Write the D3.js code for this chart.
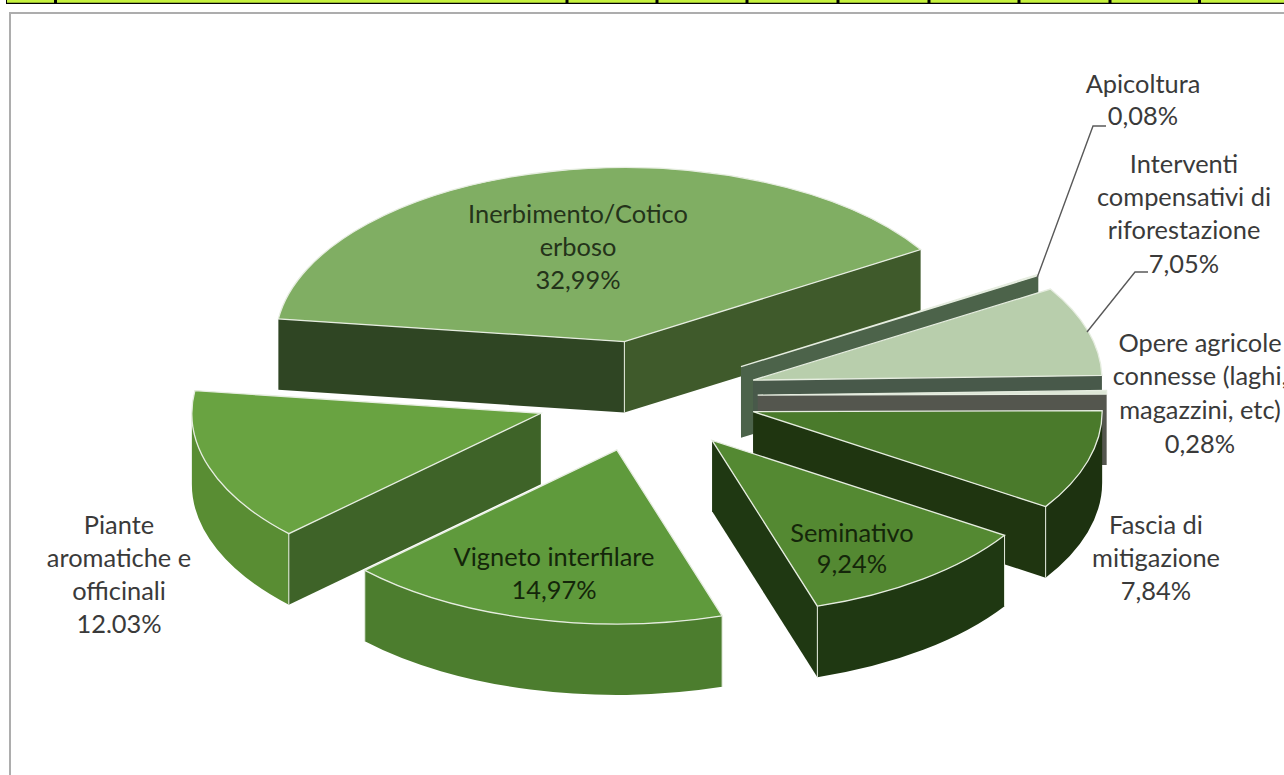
<!DOCTYPE html>
<html>
<head>
<meta charset="utf-8">
<script src="https://cdn.jsdelivr.net/npm/d3@7"></script>
<style>
  html, body { margin: 0; padding: 0; background: #fff; overflow: hidden; }
  text { font-family: Lato, "Open Sans", sans-serif; }
</style>
</head>
<body>
<script>
// Land use shares, in clockwise order starting from the largest slice.
const categories = [
  "Inerbimento/Cotico erboso", "Apicoltura", "Interventi compensativi di riforestazione",
  "Opere agricole connesse (laghi, magazzini, etc)", "Fascia di mitigazione",
  "Seminativo", "Vigneto interfilare", "Piante aromatiche e officinali"
];
const shares = [32.99, 0.08, 7.05, 0.28, 7.84, 9.24, 14.97, 12.03];
const shareLabels = ["32,99%", "0,08%", "7,05%", "0,28%", "7,84%", "9,24%", "14,97%", "12,03%"];
const labelLines = [
  ["Inerbimento/Cotico", "erboso"], ["Apicoltura"], ["Interventi", "compensativi di", "riforestazione"],
  ["Opere agricole", "connesse (laghi,", "magazzini, etc)"], ["Fascia di", "mitigazione"],
  ["Seminativo"], ["Vigneto interfilare"], ["Piante", "aromatiche e", "officinali"]
];

// Face colours per slice
const topColors  = ["#80ae63", "#5f7a58", "#b8ceac", "#dde6d6", "#4a7a2b", "#548932", "#5f9a3c", "#69a341"];
const startCutColors = ["#2f4523", "#4c634a", "#48594a", "#54564e", "#1f3510", "#1f3812", "#4c7d2e", "#3e6328"];
const endCutColors   = ["#3f5a2b", "#4c634a", "#48594a", "#54564e", "#1f3510", "#1f3812", "#4c7d2e", "#3e6328"];
const wallColors     = ["#3f5a2b", "#4c634a", "#48594a", "#54564e", "#1d3210", "#1f3812", "#4c7d2e", "#598d33"];

// Label anchors: centre x and y of the first line
const labelX = [578, 1143, 1184, 1200, 1156, 852, 554, 119];
const labelY = [214, 84, 164, 343, 525, 533, 557, 525];
const lineStep = [33, 32, 33.3, 33.6, 33, 31, 33, 33];
const labelInk = ["#24331a", "#3a3a3a", "#3a3a3a", "#3a3a3a", "#3a3a3a", "#14260a", "#14260a", "#3a3a3a"];

const width = 1284, height = 775;
const cx = 646, cy = 396, rx = 349, ry = 174, depth = 71, explode = 0.32;
const firstAngle = -82.5 * Math.PI / 180;
const edge = "#e6ede0";
// Small corrections to where some slices sit after being pulled out
const apexNudgeX = [2, 0, 0, 0, 0, -1.5, -1.5, 1];

const svg = d3.select("body").append("svg")
  .attr("width", width).attr("height", height)
  .style("display", "block");

// Page furniture: strip of a table above the chart, and the chart frame
const stripTicks = [6.5, 55.5, 567, 657, 747, 838, 929, 1019, 1110, 1199.5];
svg.append("rect").attr("x", 6).attr("y", 0).attr("width", width - 6).attr("height", 3).attr("fill", "#c6f23f");
svg.append("line").attr("x1", 6).attr("x2", width).attr("y1", 3.4).attr("y2", 3.4).attr("stroke", "#000").attr("stroke-width", 1.4);
svg.selectAll("line.tick").data(stripTicks).join("line").attr("class", "tick")
  .attr("x1", d => d).attr("x2", d => d).attr("y1", 0).attr("y2", 4)
  .attr("stroke", "#000").attr("stroke-width", (d, i) => i === 0 ? 1 : 3);
svg.append("path").attr("d", `M10 ${height} V13 H${width}`)
  .attr("fill", "none").attr("stroke", "#adadad").attr("stroke-width", 2);

// Pie layout in the order the slices run around the circle
const arcs = d3.pie().sort(null).startAngle(firstAngle).endAngle(firstAngle + 2 * Math.PI)(shares);

// Unit-circle angle (0 at the top, clockwise) projected on the tilted plane
const project = (a, r = 1) => [r * rx * Math.sin(a), -r * ry * Math.cos(a)];
const sliceData = arcs.map((d, i) => {
  const mid = (d.startAngle + d.endAngle) / 2;
  const [ox, oy] = project(mid, explode);
  return { ...d, i, ax: cx + ox + apexNudgeX[i], ay: cy + oy };
});

// Back-to-front painting order
const paintOrder = [0, 1, 2, 3, 4, 7, 5, 6];
const topArc = d3.arc().innerRadius(0).outerRadius(rx);

const quad = (p, q) =>
  `M${p[0]} ${p[1]} L${q[0]} ${q[1]} L${q[0]} ${q[1] + depth} L${p[0]} ${p[1] + depth} Z`;

const slices = svg.append("g").selectAll("g").data(paintOrder.map(i => sliceData[i])).join("g");

slices.each(function (d) {
  const g = d3.select(this);
  const apex = [d.ax, d.ay];
  const point = a => { const [x, y] = project(a); return [d.ax + x, d.ay + y]; };
  const p0 = point(d.startAngle), p1 = point(d.endAngle);

  // Cut faces are only seen when their outward normal points towards the viewer
  if (-Math.cos(d.startAngle - Math.PI / 2) > 0) {
    g.append("path").attr("d", quad(apex, p0)).attr("fill", startCutColors[d.i]);
  }
  if (-Math.cos(d.endAngle + Math.PI / 2) > 0) {
    g.append("path").attr("d", quad(apex, p1)).attr("fill", endCutColors[d.i]);
  }

  // Rim, limited to the front half of the ellipse
  const lo = Math.max(d.startAngle, Math.PI / 2);
  const hi = Math.min(d.endAngle, 3 * Math.PI / 2);
  if (hi > lo) {
    const a = point(lo), b = point(hi);
    g.append("path")
      .attr("d", `M${a[0]} ${a[1]} A${rx} ${ry} 0 0 1 ${b[0]} ${b[1]} L${b[0]} ${b[1] + depth} A${rx} ${ry} 0 0 0 ${a[0]} ${a[1] + depth} Z`)
      .attr("fill", wallColors[d.i]);
    // Pale vertical seam where the rim meets a cut face
    [d.startAngle, d.endAngle].filter(t => t >= lo && t <= hi).forEach(t => {
      const p = point(t);
      g.append("line").attr("x1", p[0]).attr("x2", p[0]).attr("y1", p[1]).attr("y2", p[1] + depth)
        .attr("stroke", edge).attr("stroke-width", 1);
    });
  }
  // Seam under the apex of the largest slice
  if (d.i === 0) {
    g.append("line").attr("x1", d.ax).attr("x2", d.ax).attr("y1", d.ay).attr("y2", d.ay + depth)
      .attr("stroke", edge).attr("stroke-width", 1);
  }

  // Top face: circular arc squashed onto the tilted plane
  g.append("path")
    .attr("d", topArc(d))
    .attr("transform", `translate(${d.ax},${d.ay}) scale(1,${ry / rx})`)
    .attr("fill", topColors[d.i])
    .attr("stroke", edge).attr("stroke-width", 1.3)
    .attr("vector-effect", "non-scaling-stroke");
});

// Leader lines for the two outer labels
const leaders = [
  [[1037, 278], [1093, 126], [1106, 126]],
  [[1087, 332], [1135, 272], [1148, 272]]
];
svg.selectAll("path.leader").data(leaders).join("path").attr("class", "leader")
  .attr("d", d3.line())
  .attr("fill", "none").attr("stroke", "#595959").attr("stroke-width", 1.4);

// The last line of the left label is cut off by the edge of the chart's text box
svg.append("clipPath").attr("id", "labelBox").append("rect")
  .attr("x", 0).attr("y", 0).attr("width", width).attr("height", 633);

const labels = svg.append("g").attr("clip-path", "url(#labelBox)")
  .selectAll("text").data(categories).join("text")
  .attr("text-anchor", "middle")
  .attr("font-size", 25.4)
  .attr("fill", (d, i) => labelInk[i])
  .attr("x", (d, i) => labelX[i])
  .attr("y", (d, i) => labelY[i]);

labels.each(function (d, i) {
  const t = d3.select(this);
  [...labelLines[i], shareLabels[i]].forEach((line, k) => {
    t.append("tspan").attr("x", labelX[i])
      .attr("y", labelY[i] + k * lineStep[i])
      .attr("dy", "0.35em").text(line);
  });
});
</script>
</body>
</html>
